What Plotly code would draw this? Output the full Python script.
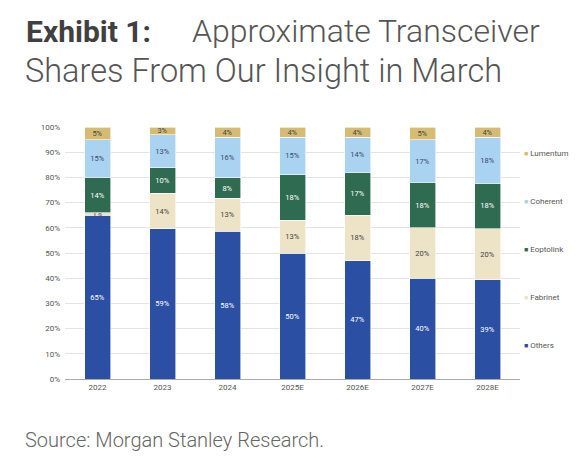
import plotly.graph_objects as go

years = ["2022", "2023", "2024", "2025E", "2026E", "2027E", "2028E"]
others = [65, 59, 58, 50, 47, 40, 39]
fabrinet = [1, 14, 13, 13, 18, 20, 20]
eoptolink = [14, 10, 8, 18, 17, 18, 18]
coherent = [15, 13, 16, 15, 14, 17, 18]
lumentum = [5, 3, 4, 4, 4, 5, 4]

series = [
    ("Others", others, "#2B50A3", "white"),
    ("Fabrinet", fabrinet, "#EDE3C7", "#444444"),
    ("Eoptolink", eoptolink, "#2F6B50", "white"),
    ("Coherent", coherent, "#AAD3F1", "#3A4A6A"),
    ("Lumentum", lumentum, "#D6BC72", "#444444"),
]

# page is offset by 8px (body margin); target coordinates are given in page pixels
OFF = 8
W, H = 585 - OFF, 466 - OFF
PL, PR, PT, PB = 65, 520, 127, 379  # plot area in page pixels
L, T = PL - OFF, PT - OFF
R = 0
B = H - (PB - OFF)
paper_w = W - L - R
ph = PB - PT

def px(x):
    return (x - PL) / paper_w

def py(y):
    return (PB - y) / ph

fig = go.Figure()
for name, vals, color, tcolor in series:
    fig.add_trace(go.Bar(
        x=years, y=vals, name=name, text=vals,
        texttemplate="%{text}%", textposition="inside",
        insidetextanchor="middle", constraintext="none",
        textfont=dict(size=7.5, color=tcolor, family="Roboto"),
        marker=dict(color=color, line=dict(color="white", width=0.6)),
        showlegend=False, legendgroup=name, hoverinfo="skip",
    ))
# legend entries: coloured square glyph drawn right next to the label
for name, vals, color, tcolor in reversed(series):
    fig.add_trace(go.Scatter(
        x=[None], y=[None], mode="markers", legendgroup=name,
        name=f"<span style='font-size:7px;color:{color}'>■</span> {name}",
        marker=dict(symbol="square", size=1, color="rgba(0,0,0,0)",
                    line=dict(width=0, color="rgba(0,0,0,0)")),
        showlegend=True,
    ))

fig.update_layout(
    width=W, height=H,
    margin=dict(l=L, r=R, t=T, b=B),
    barmode="stack", barnorm="percent", bargap=0.6,
    paper_bgcolor="white", plot_bgcolor="white",
    font=dict(family="Roboto", size=7.5, color="#555555"),
    legend=dict(
        x=px(484), xanchor="left",
        y=py(249), yanchor="middle",
        traceorder="grouped", tracegroupgap=29,
        font=dict(size=8, color="#555555"),
        itemwidth=30, bgcolor="rgba(0,0,0,0)",
    ),
    xaxis=dict(
        domain=[0, (PR - PL) / paper_w],
        showgrid=False, showline=True, linecolor="#aaaaaa", linewidth=1,
        ticks="", tickfont=dict(size=8, color="#555555"),
    ),
    yaxis=dict(
        range=[0, 100], dtick=10, ticksuffix="%", showgrid=True,
        gridcolor="#e4e4e4", gridwidth=1, zeroline=False,
        ticklabelstandoff=4,
        tickfont=dict(size=8, color="#555555"),
    ),
    annotations=[
        dict(text="<b>Exhibit 1:</b>", x=px(24), y=py(31), xref="paper", yref="paper",
             xanchor="left", yanchor="middle", showarrow=False,
             font=dict(family="Roboto", size=30, color="#404040")),
        dict(text="Approximate Transceiver", x=px(190), y=py(31), xref="paper", yref="paper",
             xanchor="left", yanchor="middle", showarrow=False,
             font=dict(family="Roboto", size=32, color="#555555", weight=300)),
        dict(text="Shares From Our Insight in March", x=px(23), y=py(71), xref="paper", yref="paper",
             xanchor="left", yanchor="middle", showarrow=False,
             font=dict(family="Roboto", size=32.5, color="#555555", weight=300)),
        dict(text="Source: Morgan Stanley Research.", x=px(23), y=py(440), xref="paper", yref="paper",
             xanchor="left", yanchor="middle", showarrow=False,
             font=dict(family="Roboto", size=20, color="#666666", weight=300)),
    ],
)

fig.write_html("out.html")
